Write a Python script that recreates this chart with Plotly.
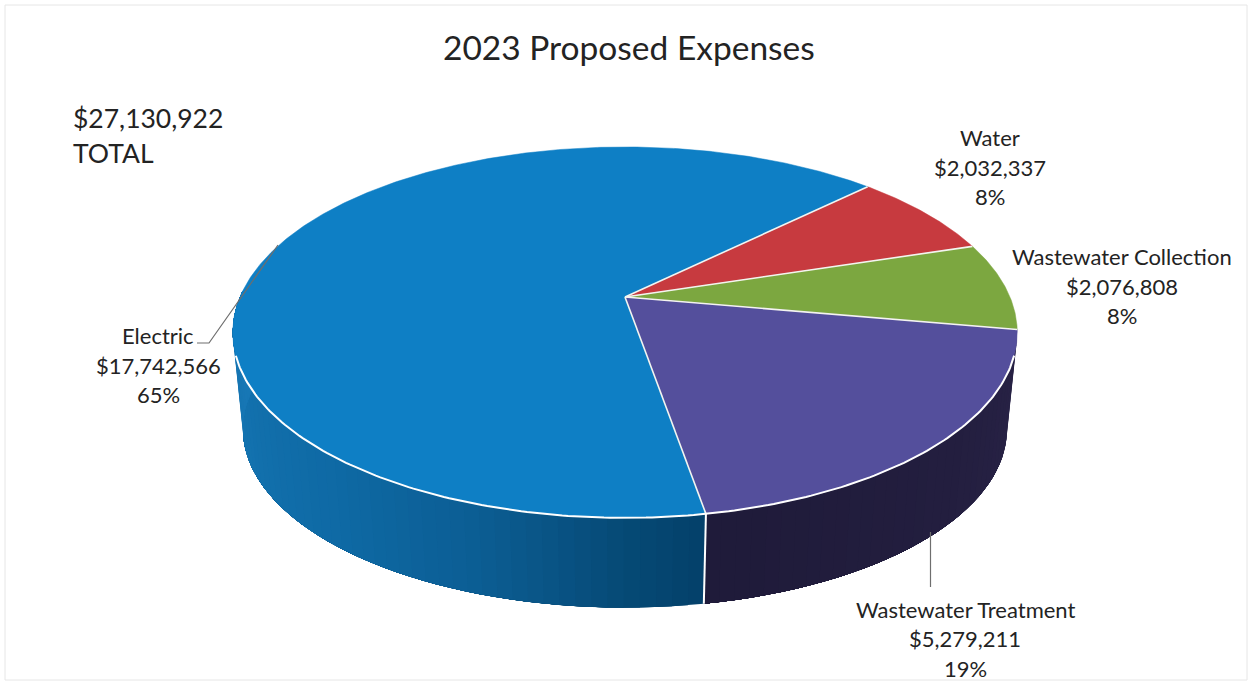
import numpy as np
import plotly.graph_objects as go

# Expense data
categories = ["Water", "Wastewater Collection", "Wastewater Treatment", "Electric"]
amounts = [2032337, 2076808, 5279211, 17742566]
share_labels = ["8%", "8%", "19%", "65%"]
total_label = "$27,130,922"
title_text = "2023 Proposed Expenses"

top_colors = ["#c73a3f", "#7ca740", "#544f9c", "#0e7fc5"]
# Side-wall shading: (angle in degrees, colour) stops, clockwise from the far edge
wall_shades = {
    "Wastewater Treatment": [(95, "#2a2448"), (130, "#241f40"), (170, "#1f1b3a")],
    "Electric": [(170, "#04406a"), (180, "#064a76"), (190, "#0a5587"), (200, "#0c5f96"),
                 (220, "#0f6aa5"), (250, "#1473b0"), (270, "#1878b6")],
}

# Label positions (centre x, y of first line, line gap)
label_pos = {
    "Water": (990, 137.5, 29.5),
    "Wastewater Collection": (1122, 256.5, 29.5),
    "Wastewater Treatment": (965, 609, 29.5),
    "Electric": (158, 335.5, 29.5),
}

# Projection of the disc onto the page, with perspective
START_ANGLE = 45.6
PERSPECTIVE = 0.191
TOP = dict(cx=625.0, cy=297.0, rx=385.0, ry=178.7)
BOTTOM = dict(cx=625.0, cy=395.0, rx=375.0, ry=172.0)
FONT = "Lato"
INK = "#232323"


def project(theta_deg, disc, radius=1.0):
    t = np.radians(theta_deg)
    u, v = radius * np.sin(t), -radius * np.cos(t)
    w = 1 - PERSPECTIVE * v
    return disc["cx"] + disc["rx"] * u / w, disc["cy"] + disc["ry"] * v / w


def hex_rgb(c):
    return np.array([int(c[i:i + 2], 16) for i in (1, 3, 5)], dtype=float)


def shade(stops, theta):
    angles = [s[0] for s in stops]
    rgb = np.array([hex_rgb(s[1]) for s in stops])
    vals = [np.interp(theta, angles, rgb[:, i]) for i in range(3)]
    return "rgb(%d,%d,%d)" % tuple(vals)


def add_poly(fig, xs, ys, color, edge=None, width=0.0):
    fig.add_trace(go.Scatter(x=xs, y=ys, mode="lines", fill="toself", fillcolor=color,
                             line=dict(color=edge or color, width=width),
                             hoverinfo="skip", showlegend=False))


def add_line(fig, xs, ys, color, width):
    fig.add_trace(go.Scatter(x=xs, y=ys, mode="lines", line=dict(color=color, width=width),
                             hoverinfo="skip", showlegend=False))


fractions = np.array(amounts, dtype=float) / sum(amounts)
edges = START_ANGLE + np.concatenate([[0], np.cumsum(fractions) * 360])
fig = go.Figure()

# Side wall: each slice is painted as shrinking fans, so later bands overlap earlier ones
for name, a0, a1 in zip(categories, edges[:-1], edges[1:]):
    if name not in wall_shades:
        continue
    lo, hi = max(a0, 92), min(a1, 272)
    steps = np.linspace(lo, hi, int((hi - lo) / 2) + 2)
    for s0 in steps[:-1]:
        arc = np.linspace(s0, hi, max(int((hi - s0) / 2), 2) + 1)
        x0, y0 = project(arc, TOP)
        x1, y1 = project(arc[::-1], BOTTOM)
        add_poly(fig, np.r_[x0, x1], np.r_[y0, y1], shade(wall_shades[name], s0 + 1))

# Top face wedges
for color, a0, a1 in zip(top_colors, edges[:-1], edges[1:]):
    arc = np.linspace(a0, a1, int((a1 - a0) * 2) + 2)
    x, y = project(arc, TOP)
    add_poly(fig, np.r_[TOP["cx"], x, TOP["cx"]], np.r_[TOP["cy"], y, TOP["cy"]], color, width=0.5)

# White separators on the top face
for a in edges[:-1]:
    x, y = project(np.array([a]), TOP)
    add_line(fig, [TOP["cx"], x[0]], [TOP["cy"], y[0]], "#f4f4f0", 1.6)

# White rim along the visible front edge, and the seam down the wall
rim = np.linspace(108, 252, 200)
add_line(fig, *project(rim, TOP), "#ffffff", 2)
seam = edges[3]
xt, yt = project(np.array([seam]), TOP)
xb, yb = project(np.array([seam]), BOTTOM)
add_line(fig, [xt[0], xb[0]], [yt[0], yb[0]], "#ffffff", 2)

# Leader lines
add_line(fig, [197, 209, 278], [343, 343, 245], "#6e6e6e", 1.2)
add_line(fig, [930.5, 930.5], [532, 587], "#6e6e6e", 1.2)

# Faint page border
add_line(fig, [5, 1247, 1247, 5, 5], [5, 5, 680, 680, 5], "#e6e6e6", 1)


def text(x, y, s, size, anchor="center"):
    fig.add_annotation(x=x, y=y, text=s, xref="x", yref="y", showarrow=False, xanchor=anchor,
                       yanchor="middle", font=dict(family=FONT, size=size, color=INK))


# Slice labels
for name, amount, pct in zip(categories, amounts, share_labels):
    cx, y, gap = label_pos[name]
    for i, line in enumerate([name, f"${amount:,}", pct]):
        text(cx, y + i * gap, line, 22)

text(628.5, 47, title_text, 33.5)
text(71, 118, total_label, 26.5, "left")
text(71, 153, "TOTAL", 26.5, "left")

fig.update_layout(
    width=1248, height=683, margin=dict(l=0, r=0, t=0, b=0), autosize=False,
    paper_bgcolor="white", plot_bgcolor="white", showlegend=False,
    xaxis=dict(range=[0, 1248], visible=False, fixedrange=True),
    yaxis=dict(range=[683, 0], visible=False, fixedrange=True),
)
fig.write_html("out.html", config={"displayModeBar": False})
